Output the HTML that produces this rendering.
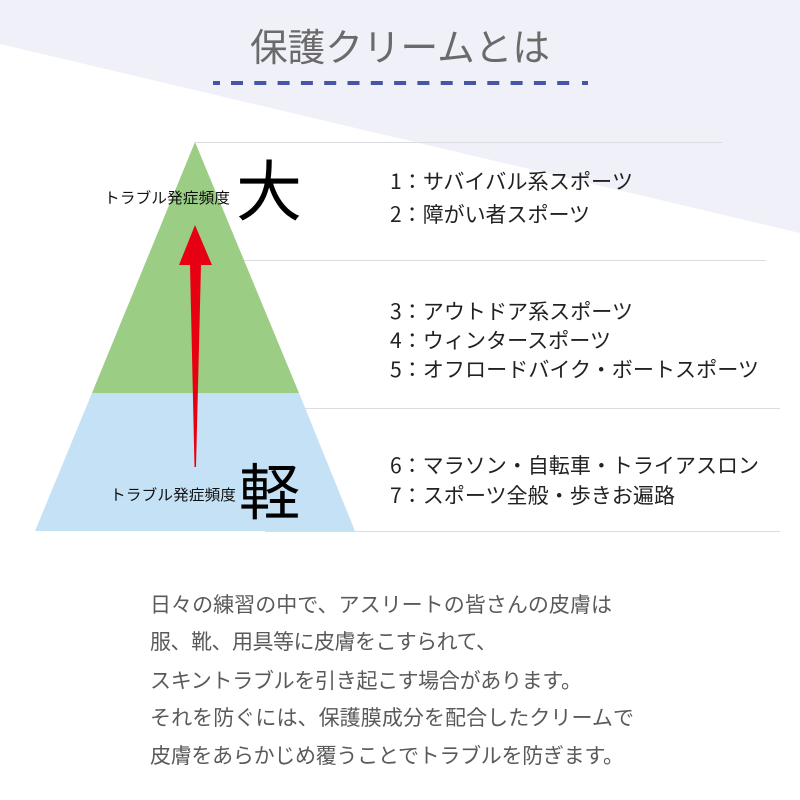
<!DOCTYPE html>
<html lang="ja">
<head>
<meta charset="utf-8">
<style>
html,body{margin:0;padding:0;background:#fff}
svg{display:block}
text{font-family:"Liberation Sans","Noto Sans CJK JP",sans-serif;font-weight:400}
.l{font-size:21px;fill:#222;font-family:"Noto Sans CJK JP",sans-serif}
.p{font-size:21px;fill:#5a5a5a}
.s{font-size:15px;fill:#111}
</style>
</head>
<body>
<svg width="800" height="800" viewBox="0 0 800 800" xmlns="http://www.w3.org/2000/svg">
<rect width="800" height="800" fill="#fff"/>
<polygon points="0,0 800,0 800,233 0,44" fill="#eff0f8"/>
<text x="400" y="61" text-anchor="middle" font-size="38" fill="#6a6a6a" textLength="300" lengthAdjust="spacingAndGlyphs">保護クリームとは</text>
<rect x="213" y="81" width="7" height="4" fill="#4a54a4"/>
<line x1="231" y1="83" x2="580" y2="83" stroke="#4a54a4" stroke-width="4" stroke-dasharray="12 11.3"/>
<rect x="582" y="81" width="6" height="4" fill="#4a54a4"/>

<g stroke="#dcdce0" stroke-width="1">
<line x1="195" y1="142.5" x2="722" y2="142.5"/>
<line x1="240" y1="260.5" x2="766" y2="260.5"/>
<line x1="300" y1="408.5" x2="780" y2="408.5"/>
<line x1="265" y1="531.5" x2="780" y2="531.5"/>
</g>

<polygon points="195,142 299,393 92,393" fill="#9bcd84"/>
<polygon points="92,393 299,393 355,531 35,531" fill="#c5e1f6"/>
<polygon points="195,225 212,265 201,265 196,467 194.5,467 190,265 179,265" fill="#e60012"/>

<text class="s" x="104" y="203" textLength="126" lengthAdjust="spacingAndGlyphs">トラブル発症頻度</text>
<text x="236" y="215" font-size="66" fill="#000">大</text>
<text class="s" x="110" y="500" textLength="126" lengthAdjust="spacingAndGlyphs">トラブル発症頻度</text>
<text x="239" y="514" font-size="61" fill="#000">軽</text>

<text class="l" x="390" y="189" textLength="243" lengthAdjust="spacingAndGlyphs">1：サバイバル系スポーツ</text>
<text class="l" x="390" y="222" textLength="200" lengthAdjust="spacingAndGlyphs">2：障がい者スポーツ</text>
<text class="l" x="390" y="319" textLength="243" lengthAdjust="spacingAndGlyphs">3：アウトドア系スポーツ</text>
<text class="l" x="390" y="348" textLength="221" lengthAdjust="spacingAndGlyphs">4：ウィンタースポーツ</text>
<text class="l" x="390" y="377" textLength="369" lengthAdjust="spacingAndGlyphs">5：オフロードバイク・ボートスポーツ</text>
<text class="l" x="390" y="473" textLength="369" lengthAdjust="spacingAndGlyphs">6：マラソン・自転車・トライアスロン</text>
<text class="l" x="390" y="503" textLength="285" lengthAdjust="spacingAndGlyphs">7：スポーツ全般・歩きお遍路</text>

<text class="p" x="150" y="612" textLength="462">日々の練習の中で、アスリートの皆さんの皮膚は</text>
<text class="p" x="150" y="649" textLength="347">服、靴、用具等に皮膚をこすられて、</text>
<text class="p" x="150" y="688" textLength="432">スキントラブルを引き起こす場合があります。</text>
<text class="p" x="150" y="725" textLength="484">それを防ぐには、保護膜成分を配合したクリームで</text>
<text class="p" x="150" y="763" textLength="474">皮膚をあらかじめ覆うことでトラブルを防ぎます。</text>
</svg>
</body>
</html>
